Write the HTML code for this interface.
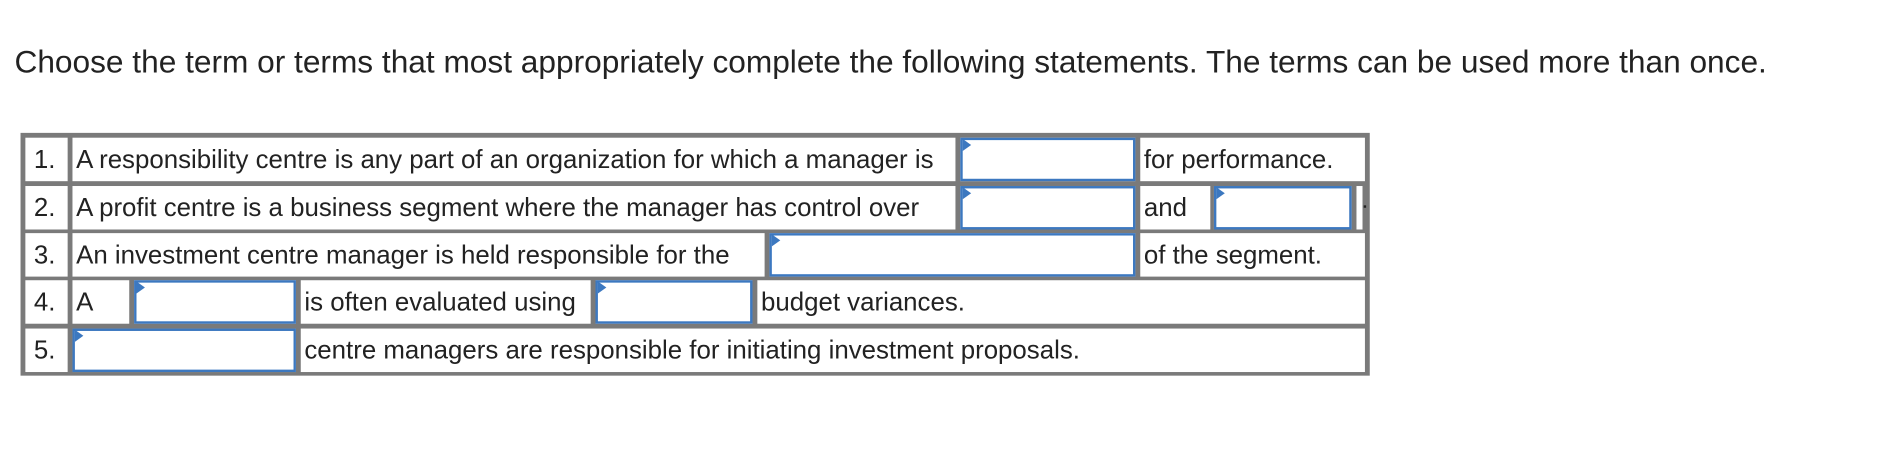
<!DOCTYPE html>
<html><head><meta charset="utf-8"><style>
html,body{margin:0;padding:0;background:#fff;width:1894px;height:476px;overflow:hidden}
#w{position:absolute;left:0;top:0;width:1568px;height:394px;transform:scale(1.2079);transform-origin:0 0;font-family:"Liberation Sans",Arial,sans-serif;color:#222}
.t{position:absolute;left:12px;top:36px;font-size:26.2px;white-space:nowrap;color:#222;line-height:30px}
.tb{position:absolute;left:17px;top:110px;width:1117px;height:201px;background:#7a7a7a}
.c{position:absolute;background:#fff;height:36px;line-height:36px;font-size:21.4px;padding-left:3px;box-sizing:border-box;white-space:nowrap;color:#222;overflow:hidden}
.i{position:absolute;background:#fff;height:36px;border:2px solid #3c78c0;box-sizing:border-box}
.i:before{content:"";position:absolute;left:0;top:-1px;border-left:7px solid #3c78c0;border-top:5px solid transparent;border-bottom:5px solid transparent}
</style></head><body><div id="w">
<div class="t">Choose the term or terms that most appropriately complete the following statements. The terms can be used more than once.</div>
<div class="tb"></div>
<div class="c" style="left:21px;top:114px;width:35px;padding-left:7px">1.</div>
<div class="c" style="left:60px;top:114px;width:731px">A responsibility centre is any part of an organization for which a manager is</div>
<div class="i" style="left:795px;top:114px;width:145px"></div>
<div class="c" style="left:944px;top:114px;width:186px">for performance.</div>
<div class="c" style="left:21px;top:154px;width:35px;padding-left:7px">2.</div>
<div class="c" style="left:60px;top:154px;width:731px">A profit centre is a business segment where the manager has control over</div>
<div class="i" style="left:795px;top:154px;width:145px"></div>
<div class="c" style="left:944px;top:154px;width:58px">and</div>
<div class="i" style="left:1005px;top:154px;width:114px"></div>
<div class="c" style="left:1123px;top:154px;width:5px;padding:0"></div>
<div style="position:absolute;left:1129px;top:170px;width:2px;height:2px;background:#222"></div>
<div class="c" style="left:21px;top:193px;width:35px;padding-left:7px">3.</div>
<div class="c" style="left:60px;top:193px;width:573px">An investment centre manager is held responsible for the</div>
<div class="i" style="left:637px;top:193px;width:303px"></div>
<div class="c" style="left:944px;top:193px;width:186px">of the segment.</div>
<div class="c" style="left:21px;top:232px;width:35px;padding-left:7px">4.</div>
<div class="c" style="left:60px;top:232px;width:47px">A</div>
<div class="i" style="left:111px;top:232px;width:134px"></div>
<div class="c" style="left:249px;top:232px;width:240px">is often evaluated using</div>
<div class="i" style="left:493px;top:232px;width:130px"></div>
<div class="c" style="left:627px;top:232px;width:503px">budget variances.</div>
<div class="c" style="left:21px;top:272px;width:35px;padding-left:7px">5.</div>
<div class="i" style="left:60px;top:272px;width:185px"></div>
<div class="c" style="left:249px;top:272px;width:881px">centre managers are responsible for initiating investment proposals.</div>
</div></body></html>
